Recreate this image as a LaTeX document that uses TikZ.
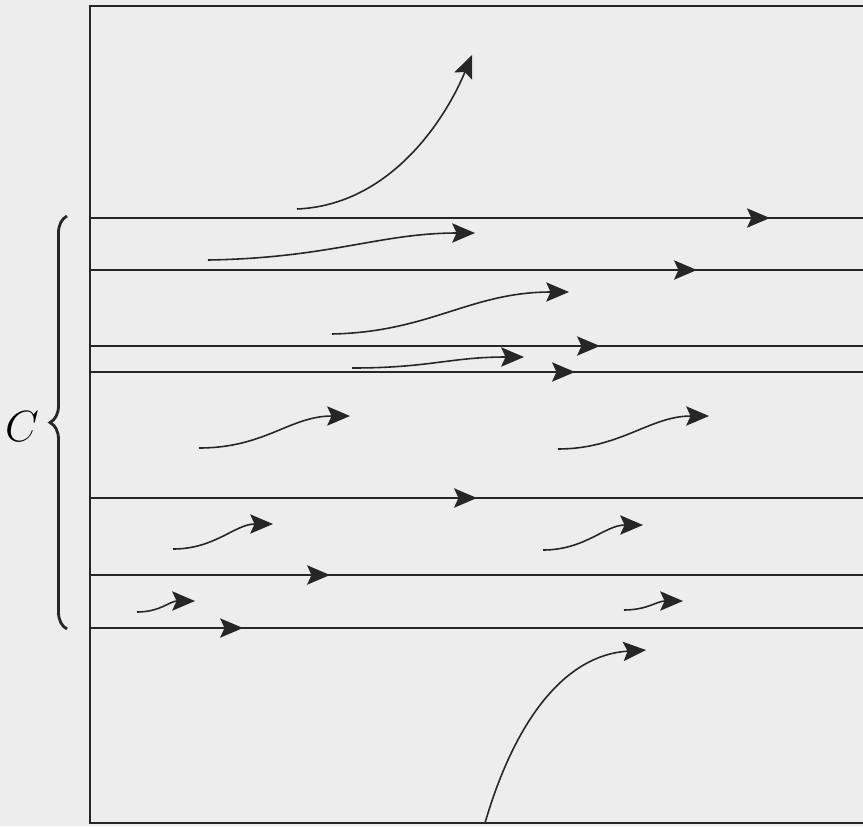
\documentclass[tikz,border=0pt]{standalone}
\usetikzlibrary{arrows.meta,decorations.markings,decorations.pathreplacing}
\tikzset{
  flow/.style={line width=0.9pt,draw=black!85},
  tip/.style={-{Stealth[length=13pt,width=11pt,inset=2.5pt]}},
  onarrow/.style={postaction={decorate},decoration={markings,
      mark=at position #1 with {\arrow{Stealth[length=13pt,width=11pt,inset=2.5pt]}}}}
}
\begin{document}
\begin{tikzpicture}[x=0.02cm,y=-0.02cm]
					\fill[black!7] (0,0) rectangle (863,826);
					\useasboundingbox (0,0) rectangle (863,826);
					% channel walls
					\draw[flow] (863,6)--(90,6)--(90,823)--(863,823);
					% streamlines
					\draw[flow,onarrow=13.6cm] (90,218)--(863,218);
					\draw[flow,onarrow=12.14cm] (90,270)--(863,270);
					\draw[flow,onarrow=10.2cm] (90,346)--(863,346);
					\draw[flow,onarrow=9.7cm] (90,372)--(863,372);
					\draw[flow,onarrow=7.74cm] (90,498)--(863,498);
					\draw[flow,onarrow=4.8cm] (90,575)--(863,575);
					\draw[flow,onarrow=3.06cm] (90,628)--(863,628);
					% particle paths
					\draw[flow,tip] (297,209) .. controls (390,205) and (445,120) .. (472,55);
					\draw[flow,tip] (208,260) .. controls (330,258) and (380,233) .. (475,233);
					\draw[flow,tip] (332,334) .. controls (430,332) and (470,292) .. (569,292);
					\draw[flow,tip] (352,368) .. controls (430,368) and (450,357) .. (524,357);
					\draw[flow,tip] (199,448) .. controls (265,448) and (290,416) .. (350,416);
					\draw[flow,tip] (558,449) .. controls (620,449) and (650,416) .. (709,416);
					\draw[flow,tip] (173,549) .. controls (215,549) and (235,524) .. (273,524);
					\draw[flow,tip] (543,550) .. controls (585,550) and (605,525) .. (643,525);
					\draw[flow,tip] (137,612) .. controls (160,612) and (170,601) .. (195,601);
					\draw[flow,tip] (624,610) .. controls (647,610) and (657,601) .. (683,601);
					\draw[flow,tip] (485,823) .. controls (515,720) and (565,655) .. (646,650);
					% core region
					\draw[line width=1.6pt,black!85,decorate,decoration={brace,amplitude=0.34cm}] (67,629)--(67,216);
					\node (core) at (22,427) {\fontsize{34}{40}\selectfont$C$};
				\end{tikzpicture}
\end{document}
